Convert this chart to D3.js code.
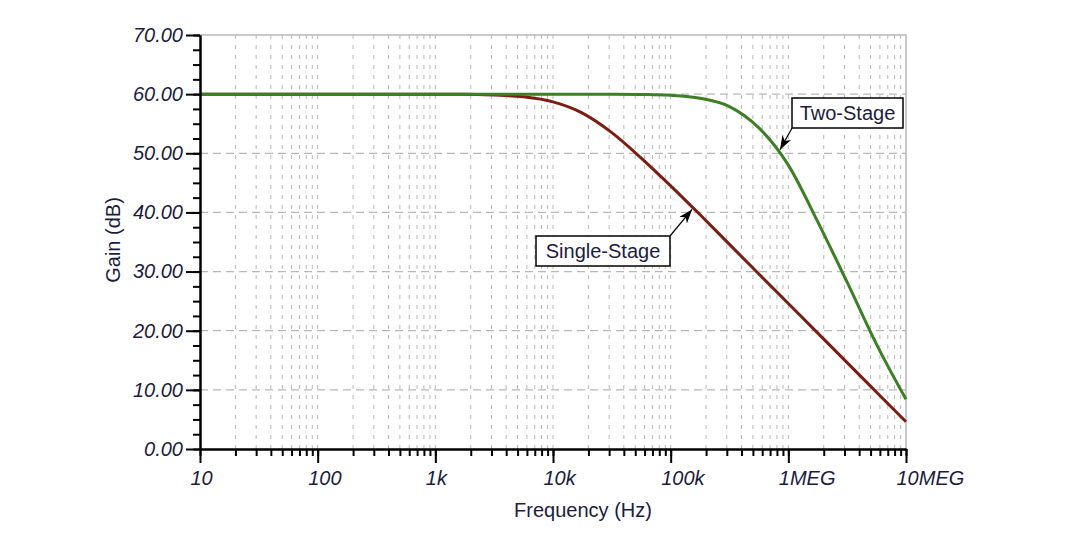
<!DOCTYPE html>
<html>
<head>
<meta charset="utf-8">
<script src="https://cdn.jsdelivr.net/npm/d3@7"></script>
<style>
body { margin: 0; background: #fff; }
text { font-family: Arial, "Liberation Sans", sans-serif; }
</style>
</head>
<body>
<svg id="chart" width="1082" height="546"></svg>
<script>
// values (Hz, dB)
const freq = [10, 100, 1e3, 1.78e3, 3.16e3, 5.62e3, 1e4, 1.78e4, 3.16e4, 5.62e4,
	1e5, 1.78e5, 3.16e5, 5.62e5, 1e6, 1.78e6, 3.16e6, 5.62e6, 1e7];
const singleStage = [60, 60, 60, 60, 59.85, 59.55, 58.7, 56.8, 53.5, 49.2,
	44.5, 39.6, 34.6, 29.6, 24.6, 19.6, 14.6, 9.6, 4.6];
const twoStage = [60, 60, 60, 60, 60, 60, 60, 60, 60, 59.95,
	59.8, 59.3, 57.9, 54.3, 48.0, 38.4, 28.2, 17.7, 8.4];

const xTicks = [10, 100, 1e3, 1e4, 1e5, 1e6, 1e7];
const xTickLabels = ["10", "100", "1k", "10k", "100k", "1MEG", "10MEG"];
const yTicks = [0, 10, 20, 30, 40, 50, 60, 70];

const labelNames = ["Two-Stage", "Single-Stage"];
const labelFreq = [8.5e5, 1.52e5];
const labelGain = [50.6, 40.5];

const svg = d3.select('#chart');
const textColor = '#1c1c40';

let x = d3.scaleLog().domain([10, 1e7]).range([200, 906]);
let y = d3.scaleLinear().domain([0, 70]).range([449, 35]);

// grid
let grid = svg.append('g');
grid.selectAll('line.v')
	.data(x.ticks().filter(d => d > 10 && d < 1e7))
	.enter().append('line')
	.attr('x1', d => x(d)).attr('x2', d => x(d))
	.attr('y1', y(70)).attr('y2', y(0))
	.attr('stroke', '#b8b8b8')
	.attr('stroke-width', 1)
	.attr('stroke-dasharray', '4,6');

grid.selectAll('line.h')
	.data(yTicks.filter(d => d > 0 && d < 70))
	.enter().append('line')
	.attr('x1', x(10)).attr('x2', x(1e7))
	.attr('y1', d => y(d)).attr('y2', d => y(d))
	.attr('stroke', '#b8b8b8')
	.attr('stroke-width', 1.2)
	.attr('stroke-dasharray', '8,5');

// top and right border
grid.append('path')
	.attr('d', `M${x(10)},${y(70)}H${x(1e7)}V${y(0)}`)
	.attr('fill', 'none')
	.attr('stroke', '#b8b8b8')
	.attr('stroke-width', 1.5);

// curves
let line = d3.line()
	.x((d, i) => x(freq[i]))
	.y(d => y(d))
	.curve(d3.curveMonotoneX);

svg.append('path')
	.attr('d', line(singleStage))
	.attr('fill', 'none')
	.attr('stroke', '#7c1d12')
	.attr('stroke-width', 3);

svg.append('path')
	.attr('d', line(twoStage))
	.attr('fill', 'none')
	.attr('stroke', '#3d7f25')
	.attr('stroke-width', 3);

// axes
function styleAxis(g) {
	g.select('.domain').attr('stroke', '#000').attr('stroke-width', 2);
	g.selectAll('.tick line').attr('stroke', '#000').attr('stroke-width', 2);
	g.selectAll('.tick text')
		.attr('fill', textColor)
		.style('font-size', '20px')
		.style('font-style', 'italic');
}

svg.append('g')
	.attr('transform', `translate(0,${y(0)})`)
	.call(d3.axisBottom(x).tickValues(x.ticks()).tickSize(7).tickFormat('').tickSizeOuter(0))
	.call(styleAxis);

let xAxis = svg.append('g')
	.attr('transform', `translate(0,${y(0)})`)
	.call(d3.axisBottom(x).tickValues(xTicks).tickSize(14).tickSizeOuter(0)
		.tickFormat((d, i) => xTickLabels[i]))
	.call(styleAxis);
xAxis.selectAll('.tick text')
	.attr('text-anchor', 'start')
	.attr('x', -10)
	.attr('y', 22);

svg.append('g')
	.attr('transform', `translate(${x(10)},0)`)
	.call(d3.axisLeft(y).tickValues(d3.range(0, 70.1, 2.5)).tickSize(7).tickFormat('').tickSizeOuter(0))
	.call(styleAxis);

svg.append('g')
	.attr('transform', `translate(${x(10)},0)`)
	.call(d3.axisLeft(y).tickValues(yTicks).tickSize(14).tickPadding(3).tickSizeOuter(0)
		.tickFormat(d3.format('.2f')))
	.call(styleAxis);

// axis titles
svg.append('text')
	.attr('x', 583).attr('y', 517)
	.attr('text-anchor', 'middle')
	.attr('fill', textColor)
	.style('font-size', '20px')
	.text('Frequency (Hz)');

svg.append('text')
	.attr('transform', 'translate(120,240) rotate(-90)')
	.attr('text-anchor', 'middle')
	.attr('fill', textColor)
	.style('font-size', '20px')
	.text('Gain (dB)');

// callouts
let boxes = [
	{x: 792, y: 98, w: 111, h: 30, cx: 792, cy: 128},
	{x: 536, y: 236, w: 134, h: 30, cx: 670, cy: 236}
];

svg.append('defs').append('marker')
	.attr('id', 'arrow')
	.attr('viewBox', '0 0 14 10')
	.attr('refX', 14).attr('refY', 5)
	.attr('markerWidth', 14).attr('markerHeight', 10)
	.attr('markerUnits', 'userSpaceOnUse')
	.attr('orient', 'auto')
	.append('path')
	.attr('d', 'M0,0L14,5L0,10L4,5Z')
	.attr('fill', '#000');

labelNames.forEach((name, i) => {
	let b = boxes[i];
	svg.append('line')
		.attr('x1', b.cx).attr('y1', b.cy)
		.attr('x2', x(labelFreq[i])).attr('y2', y(labelGain[i]))
		.attr('stroke', '#000')
		.attr('stroke-width', 1.2)
		.attr('marker-end', 'url(#arrow)');
	svg.append('rect')
		.attr('x', b.x).attr('y', b.y)
		.attr('width', b.w).attr('height', b.h)
		.attr('fill', '#fff')
		.attr('stroke', '#000')
		.attr('stroke-width', 1.5);
	svg.append('text')
		.attr('x', b.x + b.w / 2).attr('y', b.y + b.h / 2)
		.attr('dy', '0.35em')
		.attr('text-anchor', 'middle')
		.attr('fill', textColor)
		.style('font-size', '20px')
		.text(name);
});
</script>
</body>
</html>
